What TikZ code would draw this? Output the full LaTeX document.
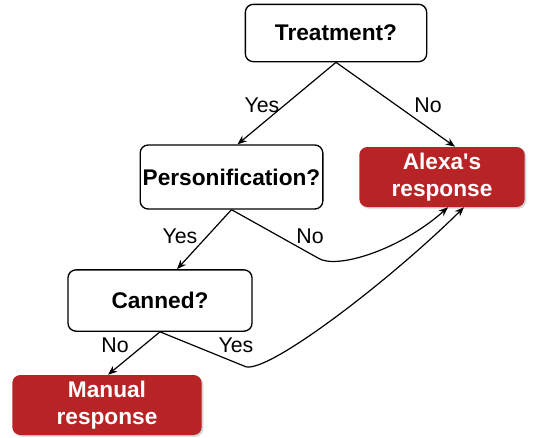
\documentclass[tikz,border=0pt]{standalone}
\usepackage{fontspec}
\setmainfont{Liberation Sans}
\usetikzlibrary{calc,shadows,arrows.meta}

\definecolor{alexared}{RGB}{184,36,38}

\tikzset{
  question/.style={draw, rounded corners=6pt, line width=1pt, fill=white,
    font=\fontsize{17}{20}\selectfont\bfseries, align=center, inner sep=0pt},
  answer/.style={rounded corners=6pt, fill=alexared, text=white,
    drop shadow={shadow xshift=1.2pt, shadow yshift=-1.2pt, opacity=0.35},
    font=\fontsize{17}{20}\selectfont\bfseries, align=center, inner sep=0pt},
  lbl/.style={font=\fontsize{16}{19}\selectfont, inner sep=0pt},
  arr/.style={line width=0.9pt, -{Stealth[length=7pt,width=5.5pt]}}
}

\begin{document}
\begin{tikzpicture}[x=0.75pt,y=-0.75pt]
		\useasboundingbox (0,0) rectangle (540,437);
		% decision boxes
		\node[question, minimum width=136pt, minimum height=43pt] (treat) at (336,33) {Treatment?};
		\node[question, minimum width=137pt, minimum height=48pt] (pers) at (231.5,177) {Personification?};
		\node[question, minimum width=138pt, minimum height=46pt] (canned) at (160,300.5) {Canned?};
		% outcome boxes
		\node[answer, minimum width=124pt, minimum height=45pt] (alexa) at (442,177) {Alexa\textquotesingle s\\response};
		\node[answer, minimum width=142pt, minimum height=45pt] (manual) at (107,405) {Manual\\response};
		% straight arrows
		\draw[arr] (treat.south) -- ($(pers.north)+(6,0)$);
		\draw[arr] (treat.south) -- ($(alexa.north)+(13,0)$);
		\draw[arr] (pers.south) -- ($(canned.north)+(17,0)$);
		\draw[arr] (canned.south) -- ($(manual.north)+(1,0)$);
		% curved arrows
		\draw[arr] (pers.south) -- (318,258) .. controls (336,270) and (400,250) .. ($(alexa.south)+(6,0)$);
		\draw[arr] (canned.south) -- (244,366) .. controls (262,378) and (385,285) .. ($(alexa.south)+(22,0)$);
		% labels
		\foreach \x/\y/\t [count=\i] in {262/105/Yes, 428/105/No, 180/236/Yes, 310/236/No, 115/345/No, 236/345/Yes}
		\node[lbl] (lbl\i) at (\x,\y) {\t};
	\end{tikzpicture}
\end{document}
